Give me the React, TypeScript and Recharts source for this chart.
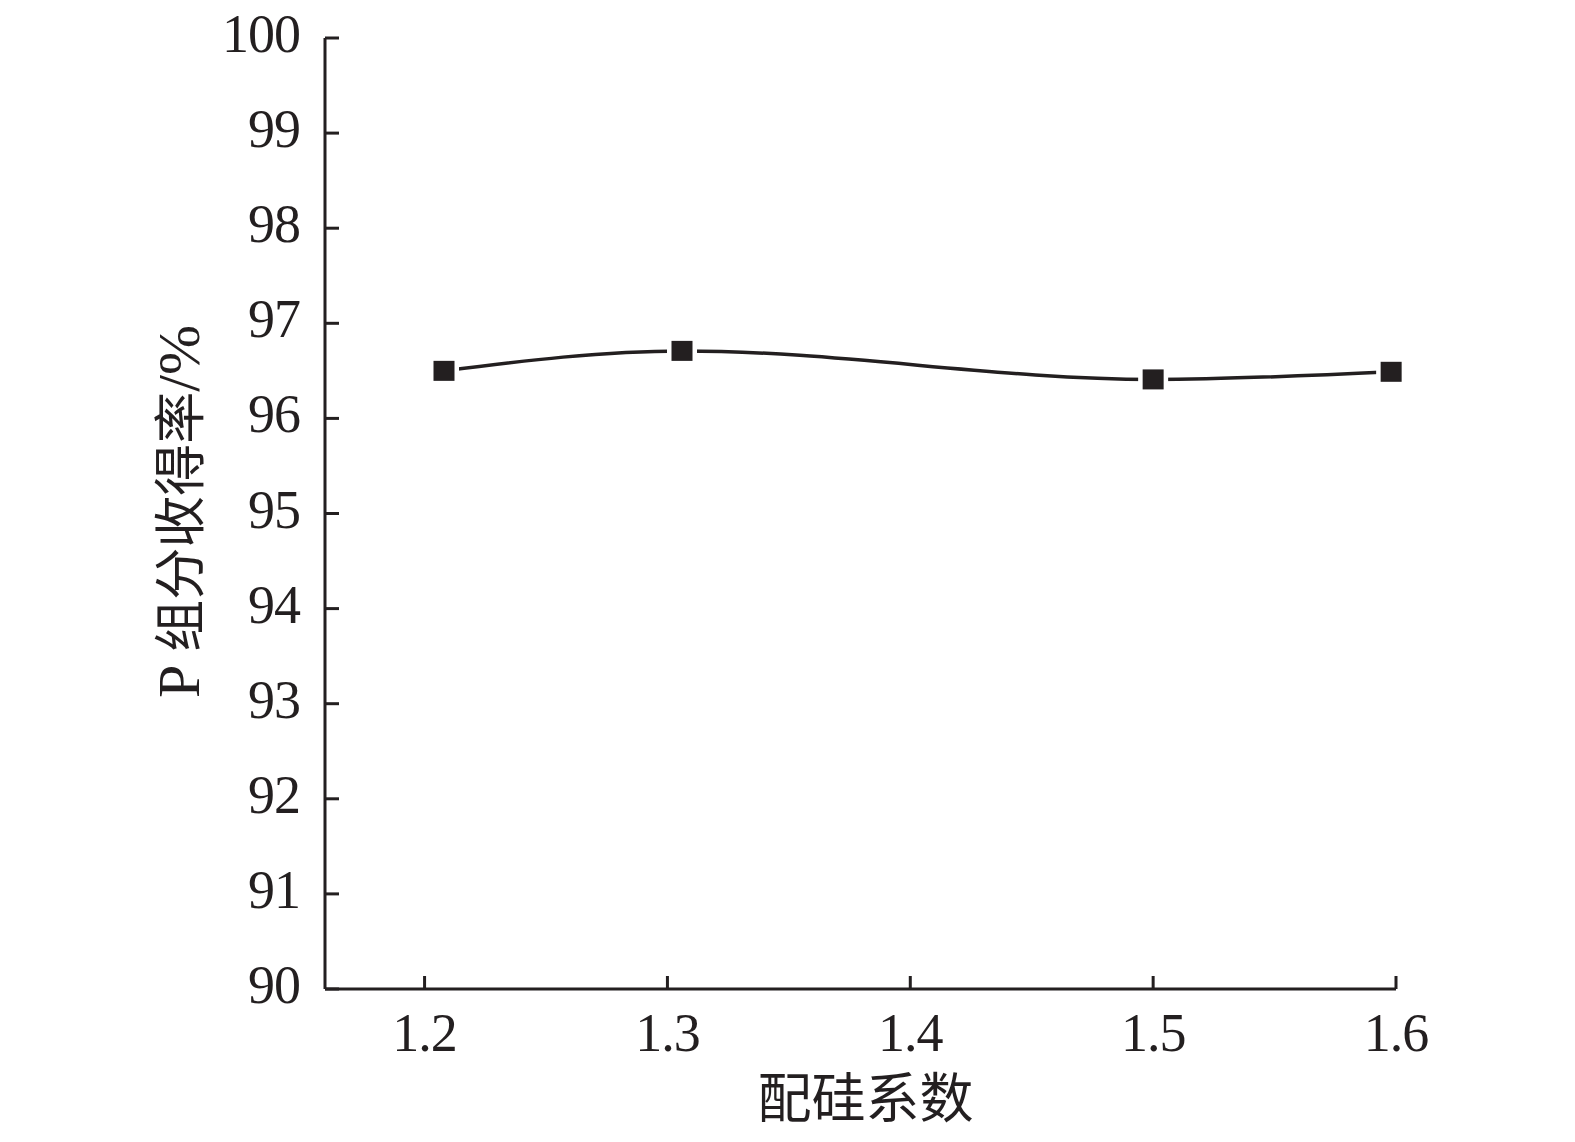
import React from 'react';
import { LineChart, Line, XAxis, YAxis } from 'recharts';

const silicaRatio = [1.208, 1.306, 1.5, 1.598];
const pRecovery = [96.5, 96.71, 96.41, 96.49];
const xTicks = [1.2, 1.3, 1.4, 1.5, 1.6];
const yTicks = [90, 91, 92, 93, 94, 95, 96, 97, 98, 99, 100];
const xTitle = '配硅系数';
const yTitleLead = 'P ';
const yTitleMain = '组分收得率';
const yTitleUnit = '/%';

const data = silicaRatio.map((x, i) => ({ x, y: pRecovery[i] }));

const INK = '#231f20';
const FONT = "'Liberation Serif', 'Times New Roman', 'Noto Sans CJK SC', serif";

const YTick = (props: any) => {
  const { x, y, payload } = props;
  const axisX = x + 25;
  return (
    <g>
      <line x1={axisX} x2={axisX + 14} y1={y} y2={y} stroke={INK} strokeWidth={3} />
      <text x={x} y={y + 14} textAnchor="end" fontSize={54} letterSpacing={-1} fill={INK} fontFamily={FONT}>
        {payload.value}
      </text>
    </g>
  );
};

const XTick = (props: any) => {
  const { x, y, payload } = props;
  const axisY = y;
  return (
    <g>
      <line x1={x} x2={x} y1={axisY} y2={axisY - 13} stroke={INK} strokeWidth={3} />
      <text x={x} y={axisY + 62} textAnchor="middle" fontSize={54} letterSpacing={-1} fill={INK} fontFamily={FONT}>
        {Number(payload.value).toFixed(1)}
      </text>
    </g>
  );
};

const Dot = (props: any) => {
  const { cx, cy, index } = props;
  if (cx == null || cy == null) return <g key={index} />;
  return (
    <g key={index}>
      <rect x={cx - 15} y={cy - 14} width={30} height={28} fill="#ffffff" />
      <rect x={cx - 10.5} y={cy - 10} width={21} height={20} fill={INK} />
    </g>
  );
};

const YLabel = (props: any) => {
  const { viewBox } = props;
  const cx = viewBox.x + 104;
  const cy = viewBox.y + viewBox.height / 2 - 2;
  return (
    <text
      x={cx}
      y={cy + 20}
      transform={`rotate(-90, ${cx}, ${cy})`}
      textAnchor="middle"
      fill={INK}
      fontFamily={FONT}
    >
      <tspan fontSize={60}>{yTitleLead}</tspan>
      <tspan fontSize={52}>{yTitleMain}</tspan>
      <tspan fontSize={60}>{yTitleUnit}</tspan>
    </text>
  );
};

const XLabel = (props: any) => {
  const { viewBox } = props;
  const cx = viewBox.x + viewBox.width / 2 + 5;
  return (
    <text x={cx} y={1118} textAnchor="middle" fontSize={54} fill={INK} fontFamily={FONT}>
      {xTitle}
    </text>
  );
};

export default function App() {
  return (
    <div style={{ position: 'absolute', left: 0, top: 0, background: '#fff' }}>
      <LineChart
        width={1575}
        height={1142}
        data={data}
        margin={{ top: 38, right: 179, bottom: 53, left: 75 }}
      >
        <XAxis
          type="number"
          dataKey="x"
          domain={[1.159, 1.6]}
          ticks={xTicks}
          height={100}
          tickSize={0}
          tickMargin={0}
          tickLine={false}
          axisLine={{ stroke: INK, strokeWidth: 3 }}
          tick={<XTick />}
          interval={0}
          label={<XLabel />}
        />
        <YAxis
          type="number"
          domain={[90, 100]}
          ticks={yTicks}
          width={250}
          tickSize={0}
          tickMargin={25}
          tickLine={false}
          axisLine={{ stroke: INK, strokeWidth: 3 }}
          tick={<YTick />}
          interval={0}
          label={<YLabel />}
        />
        <Line
          type="monotone"
          dataKey="y"
          stroke={INK}
          strokeWidth={3.5}
          dot={<Dot />}
          activeDot={false}
          isAnimationActive={false}
        />
      </LineChart>
    </div>
  );
}
